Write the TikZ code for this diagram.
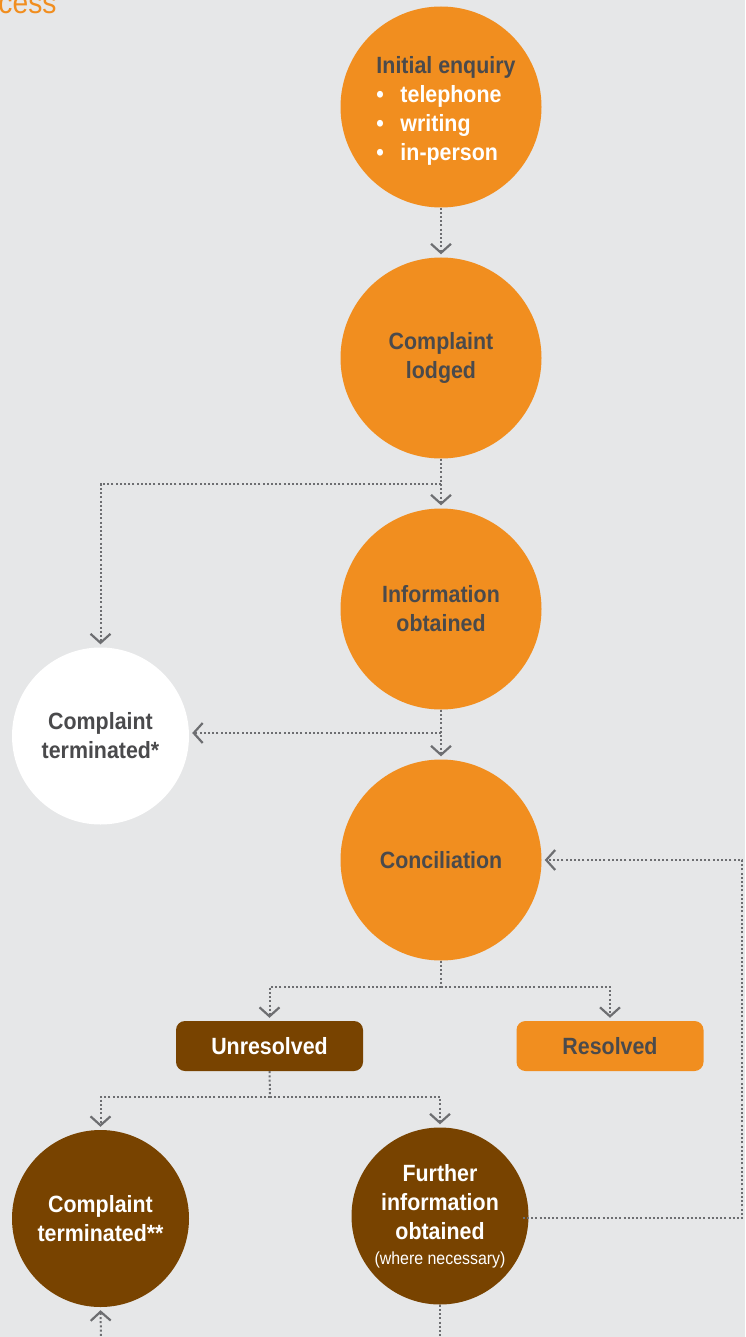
\documentclass[tikz,border=0pt]{standalone}
\usepackage{fontspec}
\setmainfont{Liberation Sans}[FakeStretch=0.91]
\usetikzlibrary{arrows.meta}
\definecolor{bg}{HTML}{E6E7E8}
\definecolor{orng}{HTML}{F18E1F}
\definecolor{brwn}{HTML}{784300}
\definecolor{txt}{HTML}{4A4A4C}
\definecolor{ln}{HTML}{6D6E71}
\begin{document}
\begin{tikzpicture}[x=1pt,y=-1pt,
  every node/.style={font=\fontsize{23.5}{29}\selectfont\bfseries},
  bigc/.style={circle,fill=orng,text=txt,minimum size=201pt,inner sep=0pt,align=center},
  smallc/.style={circle,minimum size=177pt,inner sep=0pt,align=center},
  pill/.style={rounded corners=9pt,minimum width=187pt,minimum height=50pt,inner sep=0pt},
  conn/.style={draw=ln,line width=2pt,dash pattern=on 2pt off 2.2pt},
  arr/.style={conn,-{Straight Barb[length=9pt,width=20pt,line width=2.2pt]},shorten >=3pt}
]
\useasboundingbox[fill=bg] (0,0) rectangle (745,1337);
\node[anchor=base east,text=orng,font=\fontsize{31}{32}\selectfont] (title) at (60,14) {cess};

\node[bigc] (init) at (441,107) {};
\node[anchor=center,align=left,text=txt] (inittext) at (446,111) {Initial enquiry\\
  \textcolor{white}{\makebox[24pt][l]{•}telephone}\\
  \textcolor{white}{\makebox[24pt][l]{•}writing}\\
  \textcolor{white}{\makebox[24pt][l]{•}in-person}};
\node[bigc] (lodged) at (441,358) {Complaint\\lodged};
\node[bigc] (info) at (441,609) {Information\\obtained};
\node[bigc] (concil) at (441,860) {Conciliation};
\node[smallc,fill=white,text=txt] (term1) at (100.5,736) {Complaint\\terminated*};
\node[pill,fill=brwn,text=white] (unres) at (269.5,1046) {Unresolved};
\node[pill,fill=orng,text=txt] (res) at (610,1046) {Resolved};
\node[smallc,fill=brwn,text=white] (term2) at (100.5,1218.5) {Complaint\\terminated**};
\node[smallc,fill=brwn,text=white] (further) at (440,1216) {Further\\information\\obtained\\[-4pt]{\fontsize{17.5}{19}\selectfont\mdseries(where necessary)}};

\coordinate (j1) at (441,484);
\coordinate (j2) at (441,733);
\coordinate (j3) at (441,987);
\coordinate (j4) at (270,1097);
\coordinate (r1) at (742,1218);
\coordinate (r2) at (742,860);
\coordinate (b1) at (440,1340);
\coordinate (b2) at (101,1340);

\draw[arr] (init.south) -- (lodged.north);
\draw[arr] (lodged.south) -- (info.north);
\draw[arr] (j1) -| (term1.north);
\draw[arr] (info.south) -- (concil.north);
\draw[arr] (j2) -- (j2 -| term1.east);
\draw[conn] (concil.south) -- (j3);
\draw[arr] (j3) -| (unres.north);
\draw[arr] (j3) -| (res.north);
\draw[conn] (unres.south) -- (j4);
\draw[arr] (j4) -| (term2.north);
\draw[arr] (j4) -| (further.north);
\draw[arr] (further.east |- r1) ++(-6,0) -- (r1) -- (r2) -- (concil.east);
\draw[conn] (further.south) -- (b1);
\draw[arr] (b2) -- (term2.south);
\end{tikzpicture}
\end{document}
